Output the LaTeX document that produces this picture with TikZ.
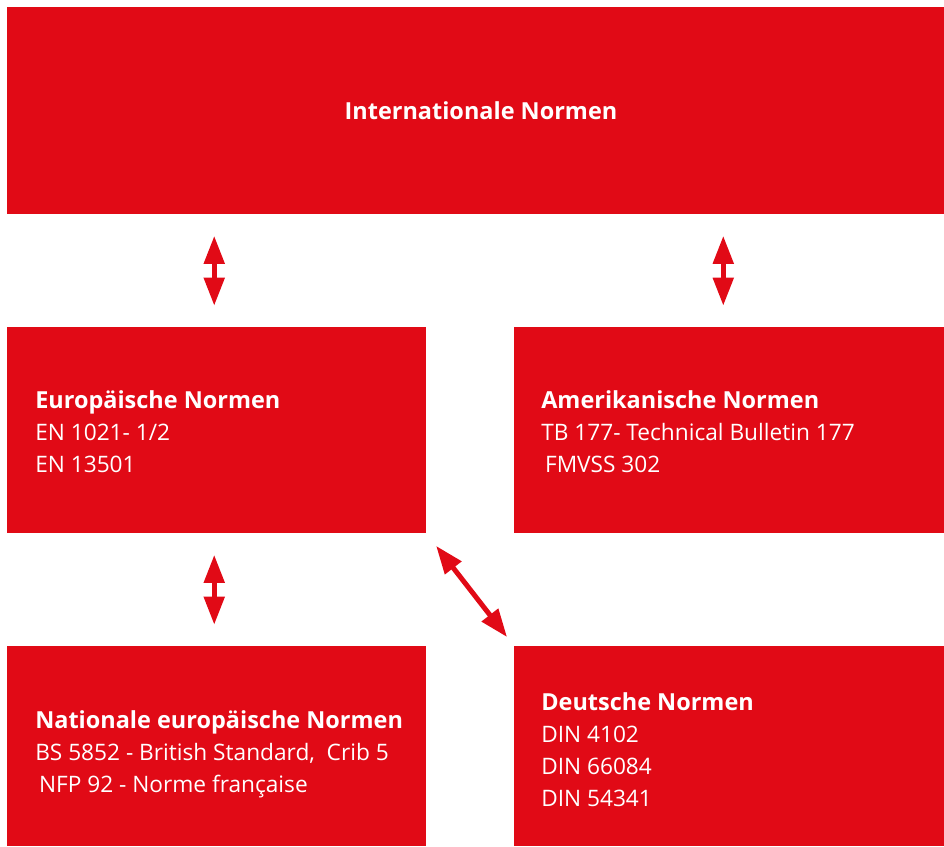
\documentclass[tikz,border=0pt]{standalone}
\usepackage{fontspec}
\setmainfont{Open Sans}
\usetikzlibrary{arrows.meta}
\definecolor{normred}{RGB}{225,10,22}
\begin{document}
\begin{tikzpicture}[x=0.75pt,y=-0.75pt,
    normbox/.style={fill=normred,draw=none,inner sep=0pt,anchor=north west},
    normtext/.style={text=white,align=left,anchor=west,inner sep=0pt,font=\fontsize{17}{24}\selectfont},
    normhead/.style={font=\fontsize{17.6}{24}\selectfont\bfseries},
    normarrow/.style={draw=normred,line width=3.75pt,shorten <=16pt,shorten >=16pt,
        {Triangle[width=15pt,length=21pt]}-{Triangle[width=15pt,length=21pt]}}]
    \useasboundingbox (0,0) rectangle (944,846);
    \node[normbox,minimum width=702.75pt,minimum height=155.25pt] (intl) at (7,7) {};
    \node[normbox,minimum width=314.25pt,minimum height=154.5pt] (eu) at (7,327) {};
    \node[normbox,minimum width=322.5pt,minimum height=154.5pt] (am) at (514,327) {};
    \node[normbox,minimum width=314.25pt,minimum height=150pt] (nat) at (7,646) {};
    \node[normbox,minimum width=322.5pt,minimum height=150pt] (de) at (514,646) {};
    \node[normtext,normhead,anchor=center] (intltext) at (481,111) {Internationale Normen};
    \node[normtext] (eutext) at (35,432) {{\normalfont\fontsize{17.6}{24}\selectfont\bfseries Europäische Normen}\\EN 1021- 1/2\\EN 13501};
    \node[normtext] (amtext) at (541,432) {{\fontsize{17.6}{24}\selectfont\bfseries Amerikanische Normen}\\TB 177- Technical Bulletin 177\\\,FMVSS 302};
    \node[normtext] (nattext) at (35,754) {{\fontsize{17.6}{24}\selectfont\bfseries Nationale europäische Normen}\\BS 5852 - British Standard,\ \ Crib 5\\\,NFP 92 - Norme française};
    \node[normtext] (detext) at (541,750) {{\fontsize{17.6}{24}\selectfont\bfseries Deutsche Normen}\\DIN 4102\\DIN 66084\\DIN 54341};
    \coordinate (euTop) at ([xshift=-1.9pt]eu.north);
    \coordinate (amTop) at ([xshift=-4.5pt]am.north);
    \coordinate (euBot) at ([xshift=-1.9pt]eu.south);
    \draw[normarrow] (intl.south -| euTop) -- (euTop);
    \draw[normarrow] (intl.south -| amTop) -- (amTop);
    \draw[normarrow] (euBot) -- (nat.north -| euBot);
    \draw[normarrow,shorten <=11.7pt,shorten >=8.5pt] (eu.south east) -- (de.north west);
\end{tikzpicture}
\end{document}
